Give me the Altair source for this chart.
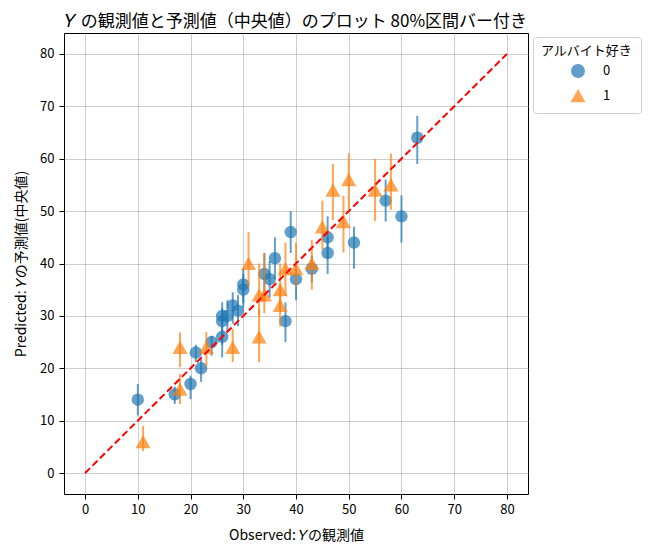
import altair as alt
import pandas as pd

# group 0 (circles)
obs0 = [10, 17, 20, 22, 21, 24, 26, 26, 26, 27, 28, 29, 30, 30, 34, 35, 36, 39, 38, 40, 43, 46, 46, 51, 57, 60, 63]
pred0 = [14, 15, 17, 20, 23, 25, 26, 29, 30, 30, 32, 31, 36, 35, 38, 37, 41, 46, 29, 37, 39, 45, 42, 44, 52, 49, 64]
lo0 = [11, 13.2, 14.1, 17.4, 21.2, 22.4, 22.1, 24.5, 26, 27, 28.5, 28, 32.5, 31.5, 34, 33.5, 37, 42, 25, 33, 36.4, 41, 38, 39, 48, 44, 59]
hi0 = [17, 16.5, 18.6, 21.8, 24.5, 26.2, 27.2, 31.5, 32.6, 33, 34.5, 34, 39, 38, 42, 40.5, 45, 50, 32.6, 39.5, 41.5, 49, 45, 47, 56, 53, 68.2]

# group 1 (triangles)
obs1 = [11, 18, 18, 23, 28, 31, 33, 34, 33, 37, 37, 38, 40, 43, 45, 47, 49, 50, 55, 58]
pred1 = [6, 24, 16, 24, 24, 40, 34, 34, 26, 35, 32, 39, 39, 40, 47, 54, 48, 56, 54, 55]
lo1 = [4.2, 20.2, 13.2, 20.4, 21.2, 35.5, 30, 30.5, 21.2, 31, 28, 33.8, 35.7, 35, 42.7, 48.3, 42.1, 50.3, 48.1, 50.3]
hi1 = [9, 26.9, 18.9, 26.9, 27.5, 46, 40, 42, 31.3, 40, 36, 44, 44, 44.5, 52, 59, 52.9, 61, 60, 61]

groups = ["0", "1"]
ticks = [0, 10, 20, 30, 40, 50, 60, 70, 80]
line_x = [0, 80]

df = pd.concat([
    pd.DataFrame({"obs": obs0, "pred": pred0, "lo": lo0, "hi": hi0, "group": groups[0]}),
    pd.DataFrame({"obs": obs1, "pred": pred1, "lo": lo1, "hi": hi1, "group": groups[1]}),
], ignore_index=True)
line_df = pd.DataFrame({"a": line_x, "b": line_x})

FONT = "Noto Sans CJK JP"
legend_title = "アルバイト好き"

xs = alt.Scale(domain=[-4, 84], nice=False, zero=False)
ys = alt.Scale(domain=[-4, 84], nice=False, zero=False)
cs = alt.Scale(domain=groups, range=["#1f77b4", "#ff7f0e"])
ss = alt.Scale(domain=groups, range=["circle", "triangle-up"])

xax = alt.Axis(values=ticks, title="Observed: 𝑌の観測値")
yax = alt.Axis(values=ticks, title="Predicted: 𝑌の予測値(中央値)")

base = alt.Chart(df)

layers = []
for g, sz in zip(groups, [155, 230]):
    rules = base.transform_filter(alt.datum.group == g).mark_rule(strokeWidth=2, opacity=0.7).encode(
        x=alt.X("obs:Q", scale=xs, axis=xax),
        y=alt.Y("lo:Q", scale=ys, axis=yax),
        y2="hi:Q",
        color=alt.Color("group:N", scale=cs, title=legend_title),
    )
    pts = base.transform_filter(alt.datum.group == g).mark_point(filled=True, opacity=0.7, size=sz, strokeWidth=0).encode(
        x=alt.X("obs:Q", scale=xs, axis=xax),
        y=alt.Y("pred:Q", scale=ys, axis=yax),
        color=alt.Color("group:N", scale=cs, title=legend_title),
        shape=alt.Shape("group:N", scale=ss, title=legend_title),
    )
    layers += [rules, pts]

line = alt.Chart(line_df).mark_line(color="red", strokeDash=[7, 3.5], strokeWidth=2).encode(
    x=alt.X("a:Q", scale=xs, axis=xax),
    y=alt.Y("b:Q", scale=ys, axis=yax),
)
layers.append(line)

chart = alt.layer(*layers).properties(
    width=464,
    height=461,
    title=alt.Title("𝑌 の観測値と予測値（中央値）のプロット 80%区間バー付き", fontSize=17, font=FONT,
                    fontWeight="normal", offset=2, anchor="middle"),
    padding={"left": 6, "top": 5, "right": 0, "bottom": 0},
).configure_view(
    stroke="black", strokeWidth=1
).configure_axis(
    grid=True, gridColor="#b0b0b0", gridOpacity=0.8, gridWidth=0.8,
    domain=False, tickColor="black", tickSize=5, labelColor="black",
    labelFont=FONT, labelFontSize=13, titleFont=FONT, titleFontSize=14,
    titleFontWeight="normal", titleColor="black", labelPadding=5,
).configure_axisY(titlePadding=11).configure_axisX(titlePadding=12, labelPadding=4).configure_legend(
    orient="none", legendX=469, legendY=4,
    titleFont=FONT, titleFontSize=13, titleFontWeight="normal", titleColor="black",
    labelFont=FONT, labelFontSize=13, labelColor="black",
    padding=8, strokeColor="#d0d0d0", cornerRadius=3, fillColor="white",
    symbolOffset=30, labelOffset=18, rowPadding=6, titlePadding=6, symbolSize=155,
    symbolOpacity=0.7,
)

chart.save("out.html", embed_options={"renderer": "svg", "actions": False})
